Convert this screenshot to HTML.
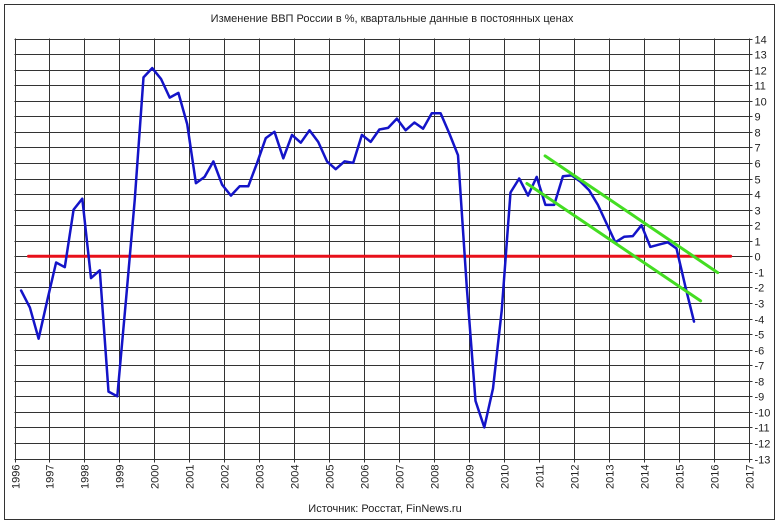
<!DOCTYPE html>
<html><head><meta charset="utf-8"><style>
body{margin:0;background:#fff;}
svg{display:block;font-family:"Liberation Sans",Arial,sans-serif;}
</style></head><body>
<svg id="chart" width="780" height="524" viewBox="0 0 780 524" xmlns="http://www.w3.org/2000/svg">
<rect x="4.5" y="4.5" width="770" height="515" fill="#fff" stroke="#333" stroke-width="1"/>
<text x="392" y="22" font-size="11" fill="#222" text-anchor="middle">Изменение ВВП России в %, квартальные данные в постоянных ценах</text>
<text x="385" y="512" font-size="11" fill="#222" text-anchor="middle">Источник: Росстат, FinNews.ru</text>
<g id="grid"></g><g id="axes"></g><g id="series"></g>
</svg>
<script>
const yearLabels=["1996","1997","1998","1999","2000","2001","2002","2003","2004","2005","2006","2007","2008","2009","2010","2011","2012","2013","2014","2015","2016","2017"];
const yTicks=[14,13,12,11,10,9,8,7,6,5,4,3,2,1,0,-1,-2,-3,-4,-5,-6,-7,-8,-9,-10,-11,-12,-13];
const seriesStart=1996.19;
const gdpValues=[-2.2,-3.3,-5.3,-2.8,-0.4,-0.7,3.0,3.7,-1.4,-0.9,-8.7,-9.0,-2.8,3.6,11.5,12.1,11.4,10.2,10.5,8.5,4.7,5.1,6.1,4.6,3.9,4.5,4.5,6.0,7.6,8.0,6.3,7.8,7.3,8.1,7.35,6.1,5.6,6.1,6.0,7.8,7.35,8.15,8.25,8.85,8.1,8.6,8.2,9.2,9.2,7.9,6.5,-2.0,-9.3,-11.0,-8.5,-3.5,4.1,5.0,3.9,5.1,3.3,3.3,5.15,5.2,4.8,4.25,3.3,2.1,0.9,1.25,1.3,2.0,0.6,0.75,0.9,0.5,-1.9,-4.2];
const zeroLine=[[1996.4,0],[2016.49,0]];
const upperTrend=[[2011.18,6.45],[2016.12,-1.05]];
const lowerTrend=[[2010.66,4.68],[2015.63,-2.87]];

const L=14.5,R=748.5,T=38.5,B=458.5;
const x0=1996,x1=2017,yMax=14,yMin=-13;
function xs(t){return L+(t-x0)/(x1-x0)*(R-L);}
function ys(v){return T+(yMax-v)/(yMax-yMin)*(B-T);}
const NS="http://www.w3.org/2000/svg";
function mk(tag,parent,attrs){const e=document.createElementNS(NS,tag);for(const k in attrs)e.setAttribute(k,attrs[k]);parent.appendChild(e);return e;}
const grid=document.getElementById('grid'),axes=document.getElementById('axes'),series=document.getElementById('series');
yTicks.forEach(v=>{
  const y=Math.round(ys(v))+0.5;
  const gl=mk('line',grid,{x1:L,x2:R+4,y1:y,y2:y,stroke:'#333','stroke-width':1});
  
  
  const tx=mk('text',axes,{x:R+6,y:y+4,'font-size':11,fill:'#222'});
  tx.textContent=v;
  
  
});
yearLabels.forEach(lbl=>{
  const x=Math.round(xs(+lbl))+0.5;
  const gl=mk('line',grid,{x1:x,x2:x,y1:T,y2:B+4,stroke:'#333','stroke-width':1});
  
  
  const tx=mk('text',axes,{x:0,y:0,'font-size':11,fill:'#222','text-anchor':'end',transform:`translate(${x+4},${B+6}) rotate(-90)`});
  tx.textContent=lbl;
  
  
});
function line(pts,color,w,name){
  const p=mk('polyline',series,{points:pts.map(q=>xs(q[0]).toFixed(1)+','+ys(q[1]).toFixed(1)).join(' '),fill:'none',stroke:color,'stroke-width':w,'stroke-linejoin':'round','stroke-linecap':'round'});
  
  
}
line(zeroLine,'#e8101a',3,'zero-line');
line(gdpValues.map((v,i)=>[seriesStart+i*0.25,v]),'#1414c8',2.5,'gdp-series-line');
line(upperTrend,'#44dd22',3,'upper-trend-line');
line(lowerTrend,'#44dd22',3,'lower-trend-line');
</script>
</body></html>
